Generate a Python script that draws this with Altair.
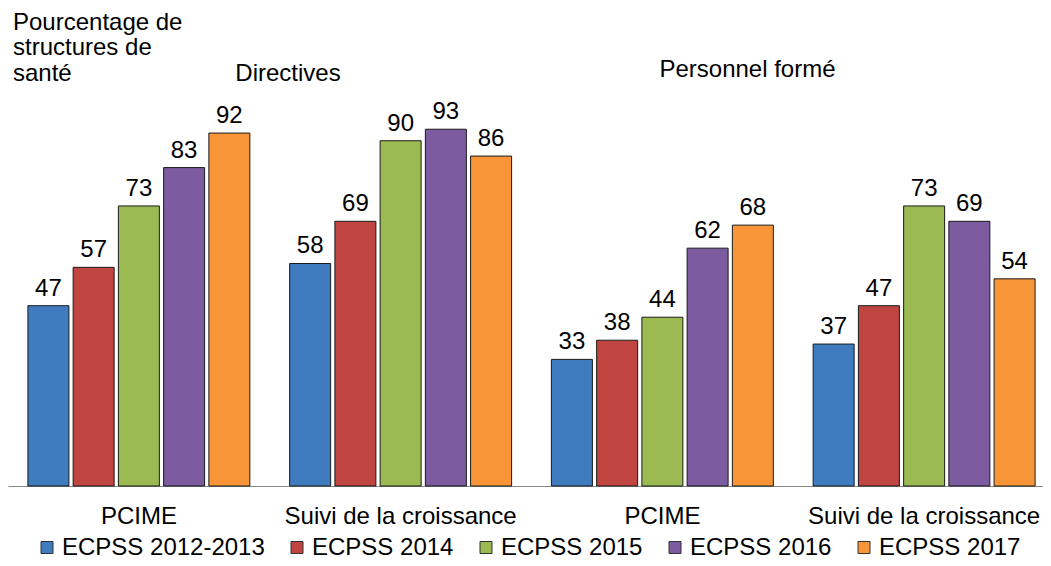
import altair as alt
import pandas as pd

series = ["ECPSS 2012-2013", "ECPSS 2014", "ECPSS 2015", "ECPSS 2016", "ECPSS 2017"]
colors = ["#3F7CBF", "#C0443F", "#9BBB52", "#7C5BA0", "#F79538"]
themes = ["Directives", "Directives", "Personnel formé", "Personnel formé"]
groups = ["PCIME", "Suivi de la croissance", "PCIME", "Suivi de la croissance"]
values = [
    [47, 57, 73, 83, 92],
    [58, 69, 90, 93, 86],
    [33, 38, 44, 62, 68],
    [37, 47, 73, 69, 54],
]
y_title = ["Pourcentage de", "structures de", "santé"]
headers = ["Directives", "Personnel formé"]

rows = []
for t, g, vals in zip(themes, groups, values):
    for s, v in zip(series, vals):
        rows.append({"key": f"{t}|{g}", "series": s, "value": v})
df = pd.DataFrame(rows)
keys = [f"{t}|{g}" for t, g in zip(themes, groups)]

FONT = "Liberation Sans, Arial, sans-serif"
FS = 24

x = alt.X(
    "key:N", sort=keys,
    scale=alt.Scale(paddingInner=0, paddingOuter=0, range=[0, 1047]),
    axis=alt.Axis(title=None, labelExpr="split(datum.label,'|')[1]", labelAngle=0,
                  ticks=False, tickSize=0, labelPadding=37, labelBaseline="alphabetic",
                  labelFontSize=FS, labelColor="#000", domainColor="#888",
                  labelFont=FONT, labelLimit=500, grid=False),
)
xo = alt.XOffset("series:N", sort=series,
                 scale=alt.Scale(paddingInner=0.094, paddingOuter=0.44))
y = alt.Y(
    "value:Q", scale=alt.Scale(domain=[0, 124.6], nice=False),
    axis=alt.Axis(title=y_title, labels=False, ticks=False, domain=False, grid=False,
                  titleAngle=0, titleX=4.5, titleY=21, titleAlign="left",
                  titleBaseline="alphabetic", titleFontSize=FS, titleFontWeight="normal",
                  titleLineHeight=25.5, titleFont=FONT, titleColor="#000"),
)
color = alt.Color(
    "series:N", sort=series, scale=alt.Scale(domain=series, range=colors),
    legend=alt.Legend(title=None, orient="none", legendX=27, legendY=527.5,
                      direction="horizontal", columns=5, symbolType="square",
                      symbolSize=144, labelFontSize=FS, labelFont=FONT,
                      labelColor="#000", columnPadding=20, labelOffset=3,
                      labelLimit=500, symbolStrokeColor="#333",
                      symbolStrokeWidth=1, symbolOpacity=1, padding=0),
)

base = alt.Chart(df)
bars = base.mark_bar(stroke="#1a1a1a", strokeWidth=1).encode(x=x, xOffset=xo, y=y, color=color)
labels = base.mark_text(dy=-10, baseline="alphabetic", fontSize=FS, font=FONT, color="#000").encode(
    x=alt.X("key:N", sort=keys), xOffset=alt.XOffset("series:N", sort=series),
    y="value:Q", text="value:Q")

h1 = alt.Chart(pd.DataFrame({"t": [headers[0]]})).mark_text(
    fontSize=FS, font=FONT, color="#000", align="center", baseline="alphabetic").encode(
    x=alt.value(280), y=alt.value(73), text="t:N")
h2 = alt.Chart(pd.DataFrame({"t": [headers[1]]})).mark_text(
    fontSize=FS, font=FONT, color="#000", align="center", baseline="alphabetic").encode(
    x=alt.value(739.5), y=alt.value(69), text="t:N")

chart = alt.layer(bars, labels, h1, h2).properties(
    width=1035, height=478,
    padding={"left": 0, "top": 0, "right": 0, "bottom": 75},
    autosize=alt.AutoSizeParams(type="none"),
).configure_view(strokeWidth=0, stroke="transparent")

chart.save("out.html", embed_options={"renderer": "svg", "actions": False})
